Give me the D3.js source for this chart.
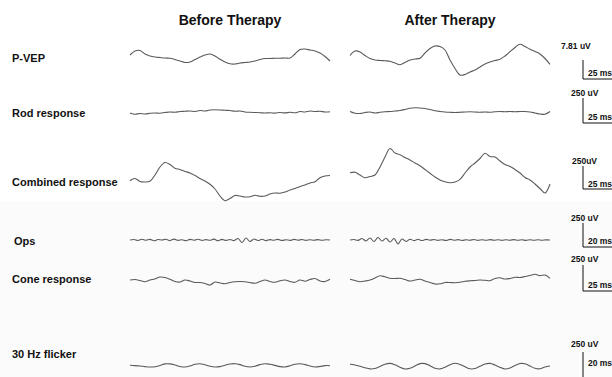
<!DOCTYPE html>
<html>
<head>
<meta charset="utf-8">
<script src="https://cdn.jsdelivr.net/npm/d3@7"></script>
<style>
  body { margin: 0; background: #fff; }
  svg { display: block; }
  text { font-family: "Liberation Sans", Arial, sans-serif; font-weight: bold; fill: #111; }
</style>
</head>
<body>
<svg id="chart" width="612" height="377"></svg>
<script>
// Recording rows and column headings
const rowNames = ["P-VEP", "Rod response", "Combined response", "Ops", "Cone response", "30 Hz flicker"];
const columnNames = ["Before Therapy", "After Therapy"];

// Calibration labels for each row
const amplitudeLabels = ["7.81 uV", "250 uV", "250uV", "250 uV", "250 uV", "250 uV"];
const timeLabels = ["25 ms", "25 ms", "25 ms", "20 ms", "25 ms", "20 ms"];

// Waveform samples (amplitude, positive up), evenly spaced in time
const vepBefore = [2,6,6.5,3,1,0,-0.5,-1,-1.3,-2.5,-4,-5.5,-5,-2.5,0,2,3,1,-2.3,-5,-6.8,-7,-6,-5.5,-5,-4,-2.5,-1.5,-1.5,-1.3,-1.3,-1,-1,3,7.5,8,7,6,4,0.5,-4];
const vepAfter = [1.5,6,5,1.5,-1.5,-3,-3.5,-3.8,-4.3,-6,-7.7,-5.5,-3,-2,-1.3,4,8.5,11,10.5,7,-3,-11.5,-18,-17.5,-15,-13,-10,-7,-5,-3.5,-2.3,1,5.3,9.5,12.7,10.5,7.7,5.5,3,-1.5,-7.3];

const rodBefore = [-1,-2.3,-1.5,-2,-1.3,-1,-1.2,-0.5,0,-0.3,0.5,0.7,1,0.5,1.5,1,2,2.2,2,1.7,1.5,0.7,1,0,-0.3,-0.5,-0.7,-1,-0.8,-1.1,-0.5,-0.9,-0.3,-0.8,0.5,0,1,0.5,0.7,0,0.2];
const rodAfter = [0.5,-1.2,-1.5,-0.5,0,-1,-0.3,0.2,0.5,1,1.5,2.5,3.7,4.2,4,3.5,2.5,1.2,0.5,0,-0.3,-0.5,-0.3,0,0.2,0,-0.3,0,-0.2,0.3,0.5,0.3,0.5,0.2,0.5,0.5,0,-1,-2,-2.3,0.5];

const combinedBefore = [1.3,3.5,0.5,0,0.7,7,15,19.5,17.5,13.7,12.5,10.5,9,6.5,3.5,1,-2.3,-7,-14,-18.7,-16.5,-13.5,-14,-15,-14.8,-13.2,-14.3,-14,-12,-11,-11.2,-10,-8,-6.5,-4.5,-3,-1,0.2,4.3,6,6.5];
const combinedAfter = [9.3,9.8,7,4.2,5.5,7,15,25,33.5,29,27.2,24.5,22,19,16.3,12.5,8.7,5,2,0.2,-0.7,0,2.7,9,15,19,23.5,28.7,25.5,25,21,17.5,15.5,12.5,9,4.5,2,-2,-6.5,-11,-2];

const opsBefore = [0,0.5,-0.5,0.8,-0.3,0.6,-0.8,0.5,0,0.7,-0.6,0.9,-0.4,0.3,-0.7,0.6,-0.2,0.8,-0.5,0.4,-0.3,0.9,-0.8,0.6,-0.4,0.5,-0.6,1.5,-2.5,2,-1.5,1,-0.5,0.7,-0.6,0.4,-0.3,0.6,-0.5,0.3,-0.4,0.6,-0.3,0.5,-0.4,0.3,-0.2,0.4,-0.3,0.2,0];
const opsAfter = [0,0.5,-0.4,1.5,-1,2,-1.5,2.5,-1,1.8,-2,1.5,-4,1,-1.5,0.8,-0.6,0.7,-0.5,0.6,-0.3,0.5,-0.4,0.3,-0.5,0.6,-0.3,0.4,-0.5,0.3,-0.2,0.5,-0.4,0.3,-0.3,0.4,-0.2,0.3,-0.4,0.3,-0.2,0.4,-0.3,0.2,-0.4,0.3,-0.2,0.3,-0.2,0.1,0];

const coneBefore = [0,0.5,-0.5,-1.7,0,1,3,2.5,0.7,-1.5,-2,0,-1,-2.5,-2.5,-3.5,-5,-2,-3,-3.8,-2.5,-1.7,-1.5,-1.7,-2.5,-3.3,-1.5,0,-1.5,-2.3,-0.8,0,-1.5,-2.3,0,-1.2,0.5,1.5,-1,-1.5,0.7];
const coneAfter = [0.7,-0.5,-1.7,-1,0,2,4.3,3.2,1.7,1.5,1.7,0.5,-1,0,0.7,-1,-2.5,-4,-3.8,-2.5,-2.5,-2.7,-2.3,-1.3,-0.8,-0.5,0,-0.3,-0.7,1.5,2.2,1,1.5,2.7,2.5,3.5,4.5,5.7,4.3,5,1.7];

const flickerBefore = [0.7,0.4,0,-0.6,-1,-0.8,0.5,2.1,2.1,1,-0.5,-1,0,1.7,2.2,1.2,-0.2,-1,-0.6,0.7,2,2.3,1.4,-0.3,-1,-0.2,1.4,2.3,1.7,0.6,-0.6,-1,0.2,1.8,2.2,1.4,0,-1,-0.5,0.4,0.2];
const flickerAfter = [1.7,1,-0.3,-1.8,-2.9,-2.5,-0.5,1.8,2.6,1.2,-1.2,-3,-2.2,0,2.4,2.4,0.3,-2.2,-2.9,-1.3,1.2,2.7,1.5,-0.8,-2.8,-2.5,-0.3,2,2.6,1,-1.3,-3,-2,0.5,2.5,2.2,0,-2.3,-2.8,-1,0];

const traces = [
  [vepBefore, vepAfter],
  [rodBefore, rodAfter],
  [combinedBefore, combinedAfter],
  [opsBefore, opsAfter],
  [coneBefore, coneAfter],
  [flickerBefore, flickerAfter]
];

// ---- layout ----
const svg = d3.select("#chart");
const panelX = [[130, 330], [350, 550]];
const rowBase = [57, 112, 182, 240, 280, 366];
const labelY = [62, 117, 186, 245, 283, 358];
const ampHalf = 40; // amplitude units shown above/below each baseline

// very faint grey backdrop behind the lower block of recordings
svg.append("rect")
  .attr("x", 0).attr("y", 201)
  .attr("width", 612).attr("height", 176)
  .attr("fill", "#fbfbfb");

// calibration bar geometry per row: [label x, label baseline, bar top, bar bottom, ms label baseline]
const calib = [
  [561, 49, 60, 79, 76],
  [571, 96, 98, 123, 120],
  [572, 164, 166, 189, 187],
  [571, 221, 223, 247, 244],
  [571, 262, 265, 291, 288],
  [571, 347, 352, 380, 366]
];
const calibX = 583;

// column headings
svg.selectAll("text.col")
  .data(columnNames)
  .join("text")
  .attr("class", "col")
  .attr("x", (d, i) => (panelX[i][0] + panelX[i][1]) / 2)
  .attr("y", 25)
  .attr("text-anchor", "middle")
  .style("font-size", "14px")
  .text(d => d);

// row labels
svg.selectAll("text.row")
  .data(rowNames)
  .join("text")
  .attr("class", "row")
  .attr("x", (d, i) => i === 3 ? 14 : 12)
  .attr("y", (d, i) => labelY[i])
  .style("font-size", "11px")
  .text(d => d);

// waveforms
traces.forEach((pair, r) => {
  const y = d3.scaleLinear().domain([-ampHalf, ampHalf]).range([rowBase[r] + ampHalf, rowBase[r] - ampHalf]);
  pair.forEach((vals, c) => {
    const x = d3.scaleLinear().domain([0, vals.length - 1]).range(panelX[c]);
    const line = d3.line()
      .x((d, i) => x(i))
      .y(d => y(d))
      .curve(d3.curveCatmullRom.alpha(0.5));
    svg.append("path")
      .datum(vals)
      .attr("d", line)
      .attr("fill", "none")
      .attr("stroke", "#5a5a5a")
      .attr("stroke-width", 1.1)
      .attr("stroke-linejoin", "round");
  });
});

// calibration bars
calib.forEach((c, r) => {
  const g = svg.append("g");
  g.append("text")
    .attr("x", c[0])
    .attr("y", c[1])
    .style("font-size", "8.5px")
    .text(amplitudeLabels[r]);
  g.append("path")
    .attr("d", `M${calibX},${c[2]}V${c[3]}H${calibX + 30}`)
    .attr("fill", "none")
    .attr("stroke", "#111")
    .attr("stroke-width", 1);
  g.append("text")
    .attr("x", calibX + 5)
    .attr("y", c[4])
    .style("font-size", "8.5px")
    .text(timeLabels[r]);
});
</script>
</body>
</html>
